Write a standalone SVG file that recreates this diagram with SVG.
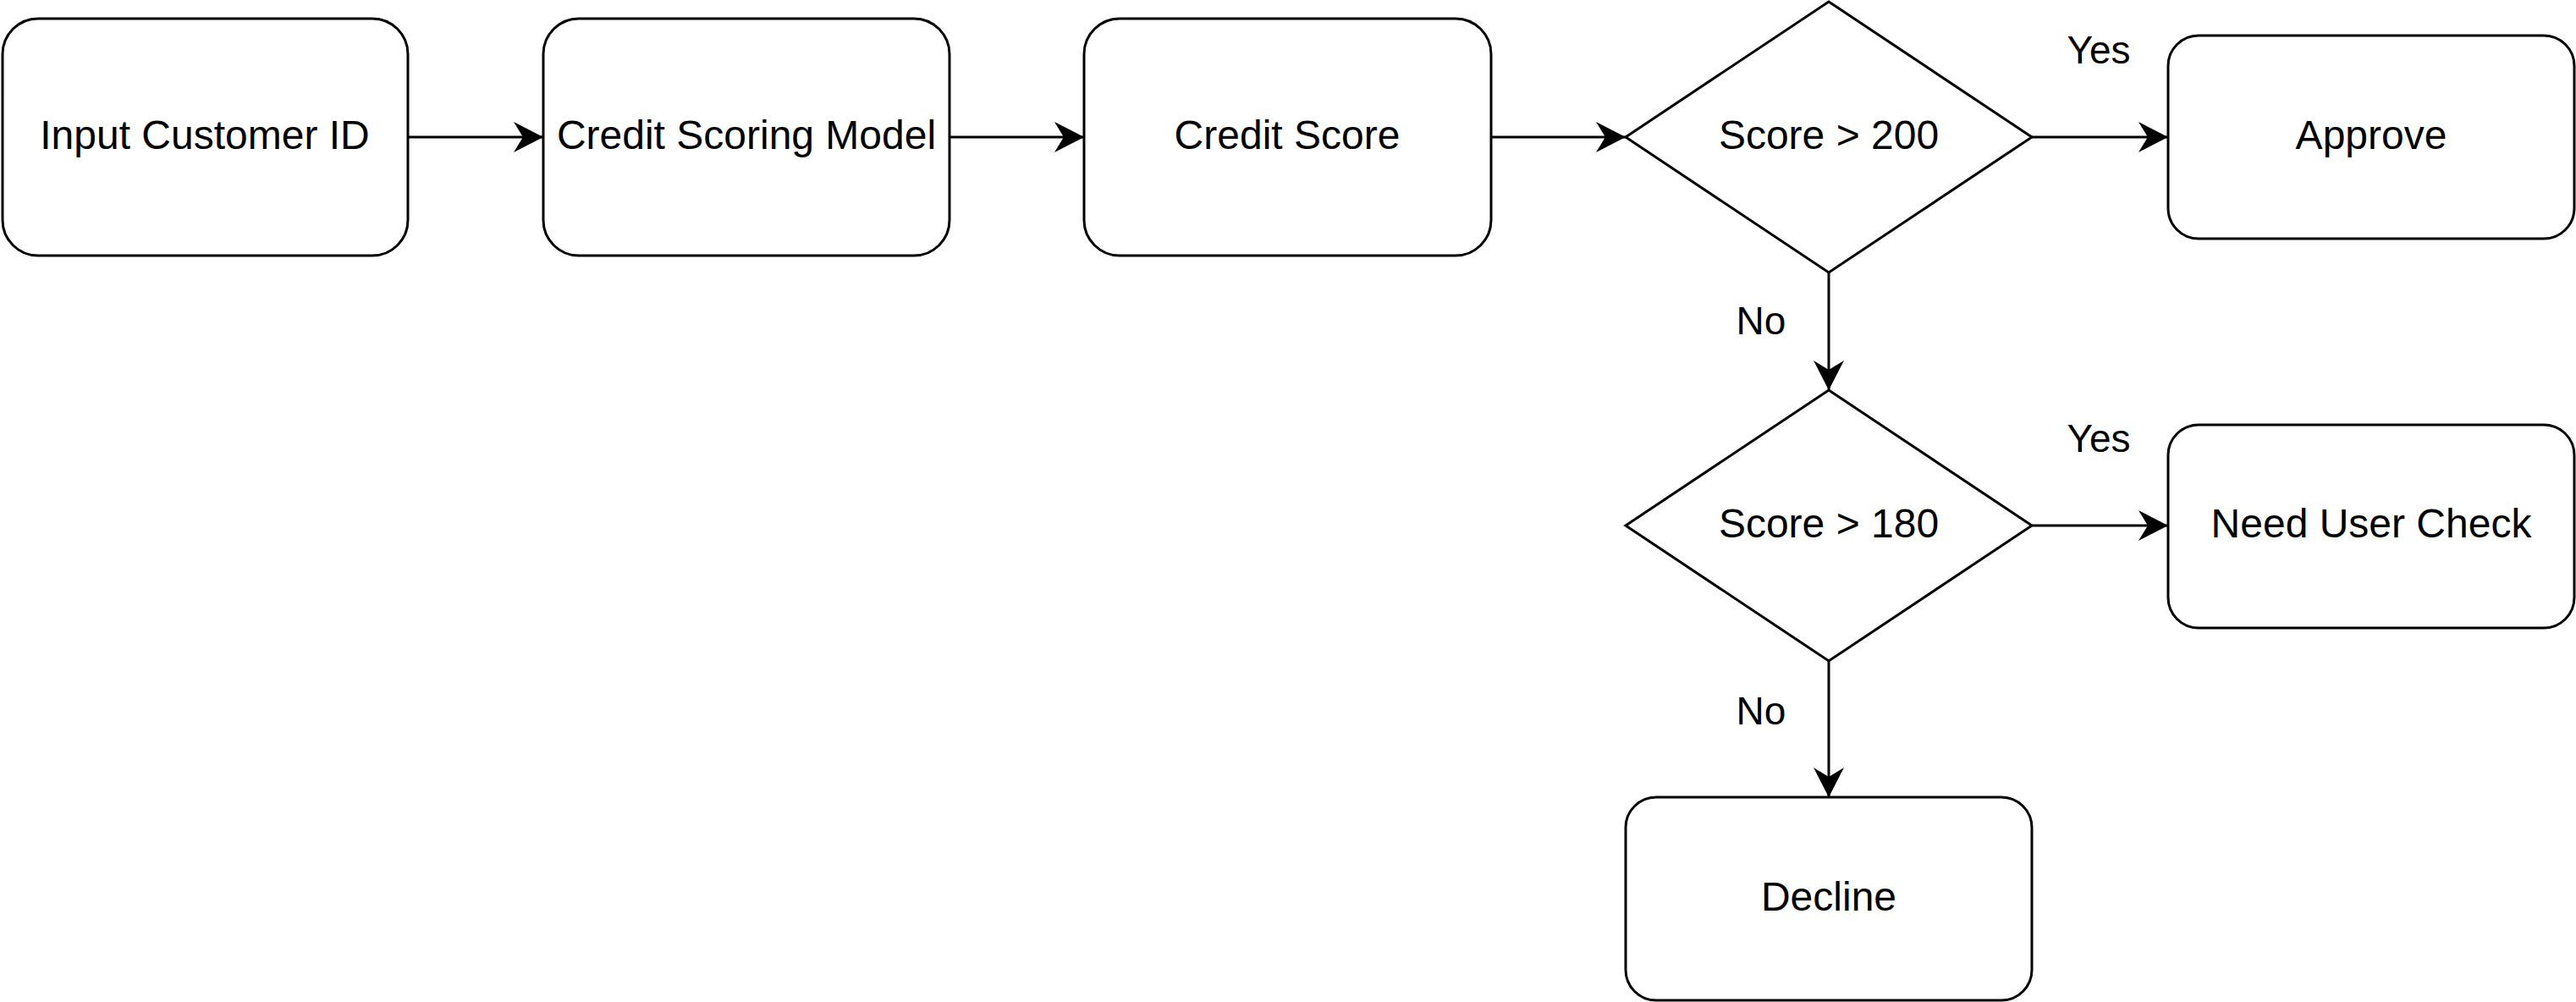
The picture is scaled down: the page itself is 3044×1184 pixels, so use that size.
<svg xmlns="http://www.w3.org/2000/svg" width="3044" height="1184" viewBox="0 0 3044 1184">
<style>
.node{fill:#ffffff;stroke:#000000;stroke-width:3}
.t{font-family:"Liberation Sans",Arial,sans-serif;font-size:48px;fill:#000000;text-anchor:middle}
.lbl{font-family:"Liberation Sans",Arial,sans-serif;font-size:46px;fill:#000000;text-anchor:middle}
.edge{fill:none;stroke:#000000;stroke-width:3}
</style>
<defs>
<marker id="arr" viewBox="0 0 36 36" refX="35" refY="18" markerWidth="36" markerHeight="36" markerUnits="userSpaceOnUse" orient="auto">
<path d="M35,18 L0,0 L11,18 L0,36 Z" fill="#000000"/>
</marker>
</defs>
<rect width="3044" height="1184" fill="#ffffff"/>
<g id="connectors">
<path class="edge" d="M482,162 L642,162" marker-end="url(#arr)"/>
<path class="edge" d="M1122,162 L1281,162" marker-end="url(#arr)"/>
<path class="edge" d="M1762,162 L1921,162" marker-end="url(#arr)"/>
<path class="edge" d="M2401,162 L2562,162" marker-end="url(#arr)"/>
<path class="edge" d="M2161,322 L2161,461" marker-end="url(#arr)"/>
<path class="edge" d="M2401,621 L2562,621" marker-end="url(#arr)"/>
<path class="edge" d="M2161,781 L2161,942" marker-end="url(#arr)"/>
<text class="lbl" x="2480" y="75">Yes</text>
<text class="lbl" x="2081" y="395">No</text>
<text class="lbl" x="2480" y="534">Yes</text>
<text class="lbl" x="2081" y="856">No</text>
</g>
<g id="input-customer-id">
<rect class="node" x="3" y="22" width="479" height="280" rx="42" ry="42"/>
<text class="t" x="242" y="176">Input Customer ID</text>
</g>
<g id="credit-scoring-model">
<rect class="node" x="642" y="22" width="480" height="280" rx="42" ry="42"/>
<text class="t" x="882" y="176">Credit Scoring Model</text>
</g>
<g id="credit-score">
<rect class="node" x="1281" y="22" width="481" height="280" rx="42" ry="42"/>
<text class="t" x="1521" y="176">Credit Score</text>
</g>
<g id="score-200">
<polygon class="node" points="2161,2 2401,162 2161,322 1921,162"/>
<text class="t" x="2161" y="176">Score &gt; 200</text>
</g>
<g id="approve">
<rect class="node" x="2562" y="42" width="480" height="240" rx="36" ry="36"/>
<text class="t" x="2802" y="176">Approve</text>
</g>
<g id="score-180">
<polygon class="node" points="2161,461 2401,621 2161,781 1921,621"/>
<text class="t" x="2161" y="635">Score &gt; 180</text>
</g>
<g id="need-user-check">
<rect class="node" x="2562" y="502" width="480" height="240" rx="36" ry="36"/>
<text class="t" x="2802" y="635">Need User Check</text>
</g>
<g id="decline">
<rect class="node" x="1921" y="942" width="480" height="240" rx="36" ry="36"/>
<text class="t" x="2161" y="1076">Decline</text>
</g>
</svg>
